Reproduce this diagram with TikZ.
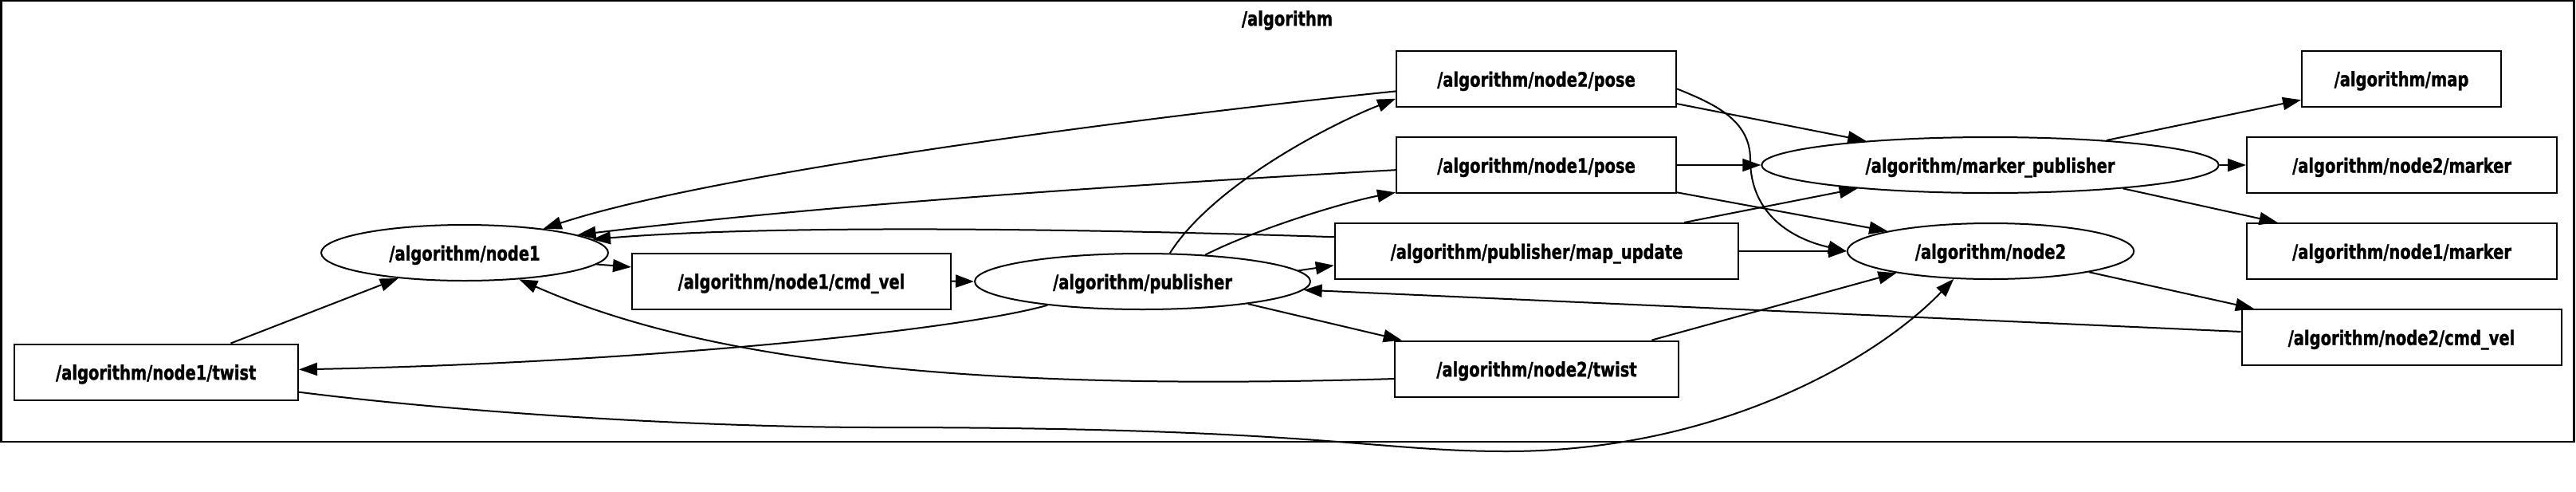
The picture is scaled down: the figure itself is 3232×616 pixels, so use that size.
\documentclass[tikz,border=0pt]{standalone}
\usepackage{fontspec}
\setmainfont{DejaVu Sans}
\newfontfamily\labfont{DejaVu Sans}[FakeStretch=0.78, BoldFeatures={FakeBold=1.2}]
\usetikzlibrary{arrows.meta,shapes.geometric}
\tikzset{
  lab/.style={font=\labfont\bfseries\fontsize{12.5}{14}\selectfont, text height=9.7pt, text depth=0pt},
  box/.style={lab, draw, line width=1pt, rectangle, minimum height=35pt, inner sep=0pt},
  ell/.style={lab, draw, line width=1pt, ellipse, minimum height=35pt, inner sep=0pt},
  e/.style={line width=1pt, -{Triangle[length=11.5pt,width=8pt]}},
}
\begin{document}
\begin{tikzpicture}[x=0.5pt,y=-0.5pt]
\useasboundingbox (0,0) rectangle (3232,616);
\node[draw, line width=1.2pt, rectangle, minimum width=1614pt, minimum height=276.5pt, inner sep=0pt] (frame) at (1615.5,277.5) {};
\node[lab, inner sep=0pt] (title) at (1615,22.6) {/algorithm};
% nodes
\node[ell, minimum width=180pt] (n1) at (583,317) {/algorithm/node1};
\node[box, minimum width=200pt] (cmd) at (993,352.5) {/algorithm/node1/cmd\_vel};
\node[box, minimum width=178.25pt] (tw1) at (195.75,466.5) {/algorithm/node1/twist};
\node[ell, minimum width=210.5pt] (pub) at (1433.5,353) {/algorithm/publisher};
\node[box, minimum width=175.5pt] (p2) at (1927.5,99) {/algorithm/node2/pose};
\node[box, minimum width=175.5pt] (p1) at (1927.5,207) {/algorithm/node1/pose};
\node[box, minimum width=253.25pt] (mu) at (1928,315) {/algorithm/publisher/map\_update};
\node[box, minimum width=178pt] (tw2) at (1928,462.5) {/algorithm/node2/twist};
\node[ell, minimum width=286.75pt] (mp) at (2497,207) {/algorithm/marker\_publisher};
\node[ell, minimum width=179.75pt] (n2) at (2497.5,315) {/algorithm/node2};
\node[box, minimum width=125pt] (map) at (3013,98.5) {/algorithm/map};
\node[box, minimum width=194.5pt] (m2) at (3013.5,207) {/algorithm/node2/marker};
\node[box, minimum width=194.5pt] (m1) at (3013.5,315) {/algorithm/node1/marker};
\node[box, minimum width=200.5pt] (cv2) at (3013,423) {/algorithm/node2/cmd\_vel};
% edges into node1
\draw[e] (p2.185) .. controls (1450,145) and (900,215) .. (n1.17);
\draw[e] (p1.182) .. controls (1450,230) and (1050,255) .. (n1.9);
\draw[e] (mu.176) .. controls (1300,285) and (950,283) .. (n1.6);
\draw[e] (tw1.21) -- (n1.201);
\draw[e] (tw2.184) .. controls (1250,490) and (900,460) .. (n1.334);
% node1 chain
\draw[e] (n1.355) -- (cmd.175);
\draw[e] (cmd.east) -- (pub.west);
% publisher out
\draw[e] (pub.194) .. controls (1200,415) and (800,455) .. (tw1.1);
\draw[e] (pub.46) .. controls (1520,235) and (1660,160) .. (p2.188);
\draw[e] (pub.23) .. controls (1570,290) and (1680,255) .. (p1.191);
\draw[e] (pub.4) -- (mu.184);
\draw[e] (pub.348) -- (tw2.168);
\draw[e] (cv2.178) -- (pub.357);
% long bottom curve
\draw[e] (tw1.352) .. controls (600,520) and (900,536) .. (1100,536)
  .. controls (1650,536) and (1720,566) .. (1890,566)
  .. controls (2150,566) and (2350,455) .. (n2.217);
% right part
\draw[e] (p2.350) -- (mp.169);
\draw[e] (p2.356) .. controls (2150,130) and (2196,150) .. (2196,200)
  .. controls (2196,270) and (2250,300) .. (n2.west);
\draw[e] (p1.east) -- (mp.west);
\draw[e] (p1.349) -- (n2.169);
\draw[e] (mu.11) -- (mp.190);
\draw[e] (mu.east) -- (n2.west);
\draw[e] (tw2.14) -- (n2.193);
\draw[e] (mp.12) -- (map.192);
\draw[e] (mp.east) -- (m2.west);
\draw[e] (mp.350) -- (m1.167);
\draw[e] (n2.348) -- (cv2.169);
\end{tikzpicture}
\end{document}
